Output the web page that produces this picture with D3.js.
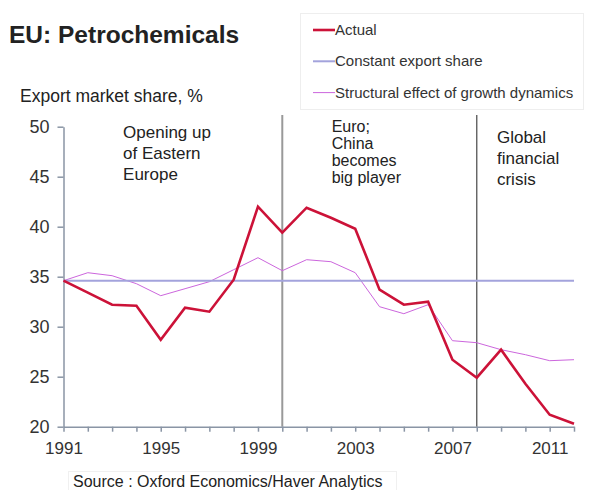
<!DOCTYPE html>
<html>
<head>
<meta charset="utf-8">
<script src="https://cdn.jsdelivr.net/npm/d3@7"></script>
<style>
  body { margin: 0; background: #fff; }
  svg { display: block; font-family: "Liberation Sans", Arial, sans-serif; }
</style>
</head>
<body>
<svg id="chart" width="590" height="490"></svg>
<script>
const years = d3.range(1991, 2013);
const actual = [34.6, 33.4, 32.2, 32.1, 28.7, 31.9, 31.5, 34.7, 42.0, 39.4, 41.9, 40.9,
  39.8, 33.7, 32.2, 32.5, 26.7, 24.9, 27.7, 24.3, 21.2, 20.3];
const constant = years.map(() => 34.6);
const structural = [34.6, 35.4, 35.1, 34.3, 33.1, 33.8, 34.5, 35.7, 36.9, 35.6, 36.7, 36.5,
  35.4, 32.0, 31.3, 32.2, 28.6, 28.4, 27.7, 27.2, 26.6, 26.7];
const xTicks = [1991, 1995, 1999, 2003, 2007, 2011];
const yTicks = [20, 25, 30, 35, 40, 45, 50];
const dividers = [2000, 2008];
const notes = [
  { year: 1993.45, lines: ["Opening up", "of Eastern", "Europe"], gap: 21, top: 138, size: 17 },
  { year: 2002.03, lines: ["Euro;", "China", "becomes", "big player"], gap: 17, top: 132, size: 16 },
  { year: 2008.83, lines: ["Global", "financial", "crisis"], gap: 21, top: 143, size: 17 }
];
const series = [
  { name: "Actual", values: actual, color: "#cc1238", width: 2.6 },
  { name: "Constant export share", values: constant, color: "#a3a3dc", width: 2 },
  { name: "Structural effect of growth dynamics", values: structural, color: "#cc66dd", width: 1 }
];

const svg = d3.select("#chart");

const x = d3.scaleLinear().domain([1991, 2012]).range([63.5, 574]);
const y = d3.scaleLinear().domain([20, 50]).range([426.7, 126.7]);

svg.append("text")
  .attr("x", 9).attr("y", 43)
  .style("font-size", "24.5px").style("font-weight", "bold").attr("fill", "#222")
  .text("EU: Petrochemicals");

svg.append("text")
  .attr("x", 20).attr("y", 102)
  .style("font-size", "17.5px").attr("fill", "#222")
  .text("Export market share, %");

// dividers
svg.selectAll(".divider")
  .data(dividers)
  .enter().append("line")
  .attr("x1", d => x(d)).attr("x2", d => x(d))
  .attr("y1", 115).attr("y2", y(20))
  .attr("stroke", (d, i) => i === 0 ? "#999" : "#555")
  .attr("stroke-width", (d, i) => i === 0 ? 2 : 1.3);

// axes
const axisColor = "#8a95a5";
const gy = svg.append("g")
  .attr("transform", `translate(${x(1991)},0)`)
  .call(d3.axisLeft(y).tickValues(yTicks).tickSize(6).tickSizeOuter(0).tickPadding(8));
const gx = svg.append("g")
  .attr("transform", `translate(0,${y(20)})`)
  .call(d3.axisBottom(x).tickValues(years).tickSize(5).tickSizeOuter(0).tickPadding(10)
    .tickFormat(d => xTicks.includes(d) ? d : ""));
[gx, gy].forEach(g => {
  g.select(".domain").attr("stroke", axisColor).attr("stroke-width", 1.5);
  g.selectAll(".tick line").attr("stroke", axisColor).attr("stroke-width", 1.5);
  g.selectAll(".tick text").attr("fill", "#333").style("font-size", "17px")
    .style("font-family", "'Liberation Sans', Arial, sans-serif");
});
gy.selectAll(".tick text").style("font-size", "18px");

// lines
const line = d3.line()
  .x((d, i) => x(years[i]))
  .y(d => y(d));

series.slice().reverse().forEach(s => {
  svg.append("path")
    .datum(s.values)
    .attr("fill", "none")
    .attr("stroke", s.color)
    .attr("stroke-width", s.width)
    .attr("stroke-linejoin", "miter")
    .attr("d", line);
});

// annotations
notes.forEach(n => {
  const t = svg.append("text")
    .attr("x", x(n.year)).attr("y", n.top)
    .style("font-size", n.size + "px").attr("fill", "#222");
  n.lines.forEach((l, i) => {
    t.append("tspan").attr("x", x(n.year)).attr("y", n.top + i * n.gap).text(l);
  });
});

// legend
svg.append("rect")
  .attr("x", 300.5).attr("y", 13.5).attr("width", 283).attr("height", 96)
  .attr("fill", "none").attr("stroke", "#eee");
const legend = svg.selectAll(".legend")
  .data(series)
  .enter().append("g")
  .attr("transform", (d, i) => `translate(313,${30 + i * 31.3})`);
legend.append("line")
  .attr("x1", 0).attr("x2", 22)
  .attr("stroke", d => d.color)
  .attr("stroke-width", d => d.width);
legend.append("text")
  .attr("x", 22).attr("y", 5)
  .style("font-size", "15px").attr("fill", "#333")
  .text(d => d.name);

// source
svg.append("rect")
  .attr("x", 68.5).attr("y", 471.5).attr("width", 328).attr("height", 21)
  .attr("fill", "none").attr("stroke", "#f0f0f0");
svg.append("text")
  .attr("x", 73).attr("y", 487)
  .style("font-size", "16px").attr("fill", "#222")
  .text("Source : Oxford Economics/Haver Analytics");
</script>
</body>
</html>
